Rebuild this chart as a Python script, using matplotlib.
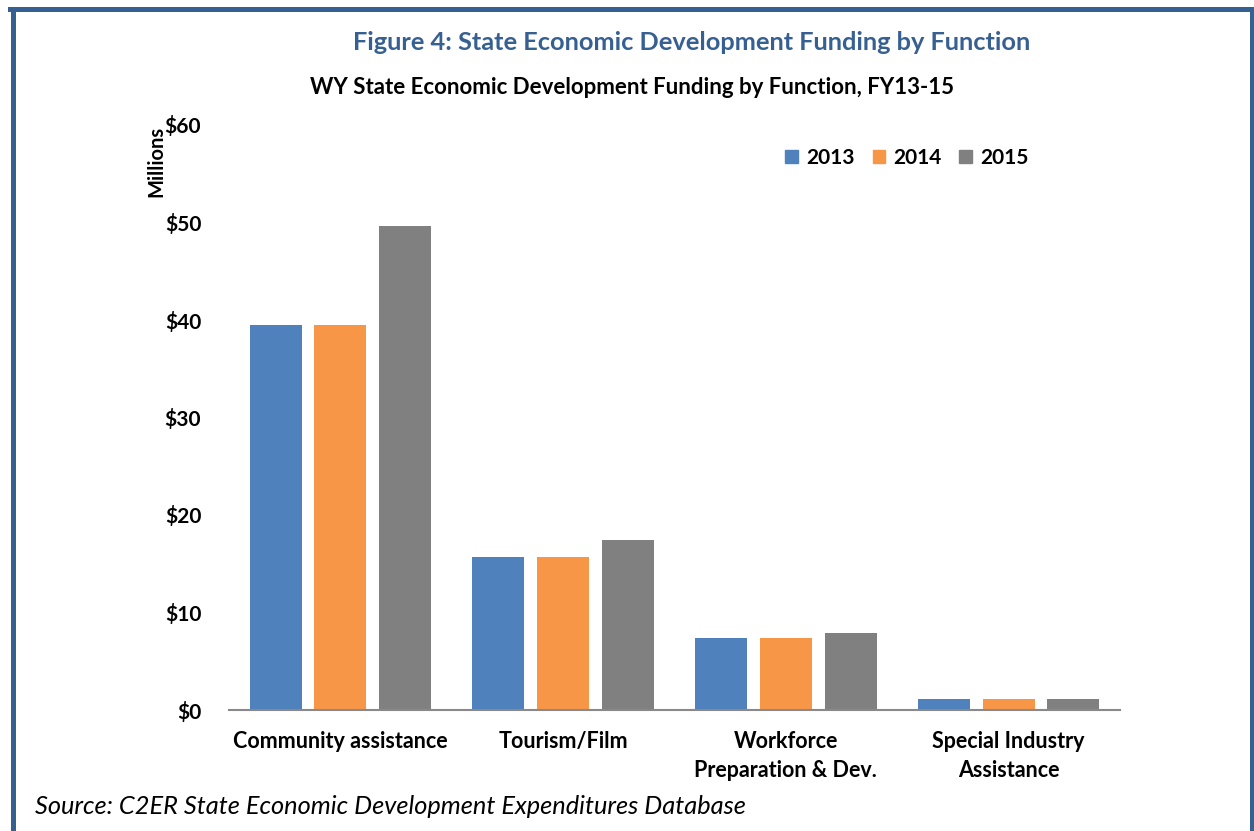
import matplotlib
matplotlib.use("Agg")
import matplotlib.pyplot as plt
import numpy as np
from matplotlib.lines import Line2D
from matplotlib.patches import Patch

plt.rcParams['font.family'] = ['Lato', 'DejaVu Sans']

categories = ["Community assistance", "Tourism/Film", "Workforce\nPreparation & Dev.", "Special Industry\nAssistance"]
years = ["2013", "2014", "2015"]
v2013 = [39.5, 15.7, 7.4, 1.1]
v2014 = [39.5, 15.7, 7.4, 1.1]
v2015 = [49.6, 17.4, 7.9, 1.1]
series = [v2013, v2014, v2015]
colors = ["#4F81BD", "#F79646", "#808080"]
yticks = [0, 10, 20, 30, 40, 50, 60]
ytick_labels = ["$0", "$10", "$20", "$30", "$40", "$50", "$60"]

fig = plt.figure(figsize=(12.54, 8.31), dpi=100)
ax = fig.add_axes([229/1254, 1-710/831, (1120-229)/1254, (710-125)/831])

x = np.arange(len(categories))
w = 0.233
step = 0.291
for i, (vals, c, yr) in enumerate(zip(series, colors, years)):
    ax.bar(x + (i-1)*step, vals, width=w, color=c, label=yr, zorder=2)

ax.set_xlim(-0.5, 3.5)
ax.set_ylim(0, 60)
ax.set_yticks(yticks)
ax.set_yticklabels(ytick_labels, fontsize=15, fontweight='bold')
ax.set_xticks(x)
ax.set_xticklabels(categories, fontsize=15.5, fontweight='bold', linespacing=1.5)
ax.tick_params(axis='both', length=0)
ax.tick_params(axis='y', pad=20)
ax.tick_params(axis='x', pad=15)
for s in ['top', 'right', 'left']:
    ax.spines[s].set_visible(False)
ax.spines['bottom'].set_color('#898989')
ax.spines['bottom'].set_linewidth(1.5)

fig.text(156/1254, 1-161/831, "Millions", rotation=90, fontsize=14.5, fontweight='bold',
         ha='center', va='center')

leg = ax.legend(handles=[Patch(color=c, label=y) for c, y in zip(colors, years)],
                loc='center', bbox_to_anchor=((907-229)/891, (710-158)/585),
                ncol=3, frameon=False, prop={'weight': 'bold', 'size': 15},
                handlelength=0.6, handleheight=0.6, handletextpad=0.4, columnspacing=0.85)

fig.text(692/1254, 1-42/831, "Figure 4: State Economic Development Funding by Function",
         fontsize=18.3, fontweight='bold', color='#376092', ha='center', va='center')
fig.text(632/1254, 1-88/831, "WY State Economic Development Funding by Function, FY13-15",
         fontsize=16, fontweight='bold', color='black', ha='center', va='center')
fig.text(35/1254, 1-806/831, "Source: C2ER State Economic Development Expenditures Database",
         fontsize=18.3, style='italic', color='black', ha='left', va='center')

bc = '#376092'
lw = 3.6
fig.add_artist(Line2D([12.5/1254, 12.5/1254], [0, 1-8.5/831], color=bc, lw=lw, transform=fig.transFigure))
fig.add_artist(Line2D([10/1254, 1254/1254], [1-8.5/831, 1-8.5/831], color=bc, lw=lw, transform=fig.transFigure))
fig.add_artist(Line2D([1251.5/1254, 1251.5/1254], [0, 1-8.5/831], color=bc, lw=lw, transform=fig.transFigure))

fig.savefig("out.png", dpi=100)
